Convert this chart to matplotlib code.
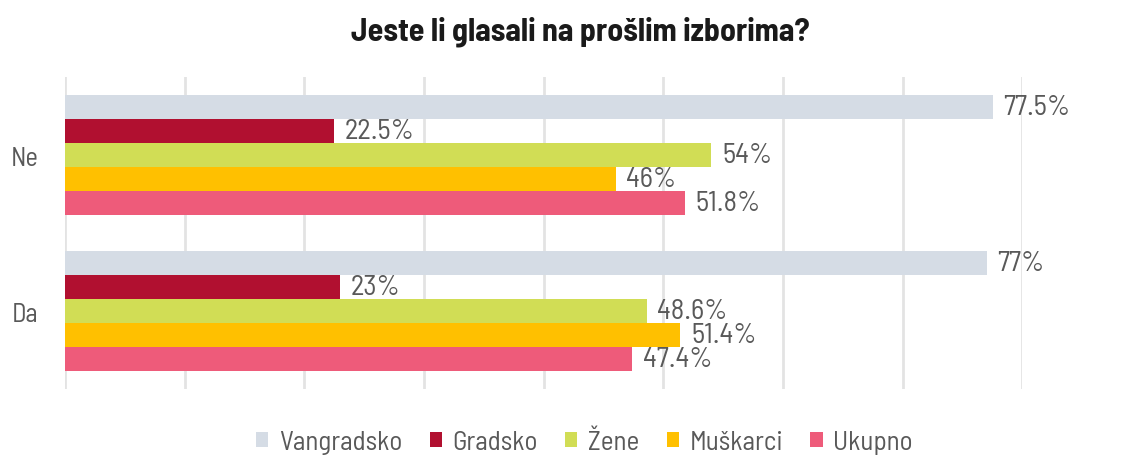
import numpy as np
import matplotlib.pyplot as plt

plt.rcParams['font.family'] = ['Barlow Semi Condensed', 'Roboto Condensed', 'DejaVu Sans']

# survey answers, share of respondents in %
answers = ["Ne", "Da"]
series = ["Vangradsko", "Gradsko", "Žene", "Muškarci", "Ukupno"]
vangradsko = [77.5, 77]
gradsko = [22.5, 23]
zene = [54, 48.6]
muskarci = [46, 51.4]
ukupno = [51.8, 47.4]
values = [vangradsko, gradsko, zene, muskarci, ukupno]
colors = ["#D5DCE5", "#B11030", "#D1DD55", "#FFC000", "#EE5B7A"]

fig = plt.figure(figsize=(11.33, 4.6), dpi=100)
ax = fig.add_axes([0.0574, 0.152, 0.845, 0.678])

h = 0.154
y = np.arange(len(answers))
for i, (name, vals, c) in enumerate(zip(series, values, colors)):
    pos = y + (i - 2) * h
    ax.barh(pos, vals, height=h, color=c, label=name, zorder=2)
    for p, v in zip(pos, vals):
        ax.text(v + 0.9, p, f"{v:g}%", va='center', ha='left',
                fontsize=20.5, color='#595959', clip_on=False)

ax.set_xlim(0, 80)
ax.set_ylim(1.5, -0.5)
ax.set_xticks(np.arange(0, 81, 10))
ax.set_xticklabels([])
ax.set_yticks(y)
ax.set_yticklabels(answers, fontsize=19, color='#595959')
ax.tick_params(length=0, pad=19)
ax.grid(axis='x', color='#E3E3E3', linewidth=2, zorder=0)
for s in ax.spines.values():
    s.set_visible(False)

fig.suptitle("Jeste li glasali na prošlim izborima?", x=0.512, y=0.965,
             fontsize=23, fontweight='bold', color='#1a1a1a')

fig.legend(loc='center', bbox_to_anchor=(0.516, 0.037), ncol=5, frameon=False,
           fontsize=19.5, handlelength=0.45, handleheight=0.45, handletextpad=0.4,
           columnspacing=1.0, labelcolor='#595959')

fig.savefig("out.png", dpi=100)
